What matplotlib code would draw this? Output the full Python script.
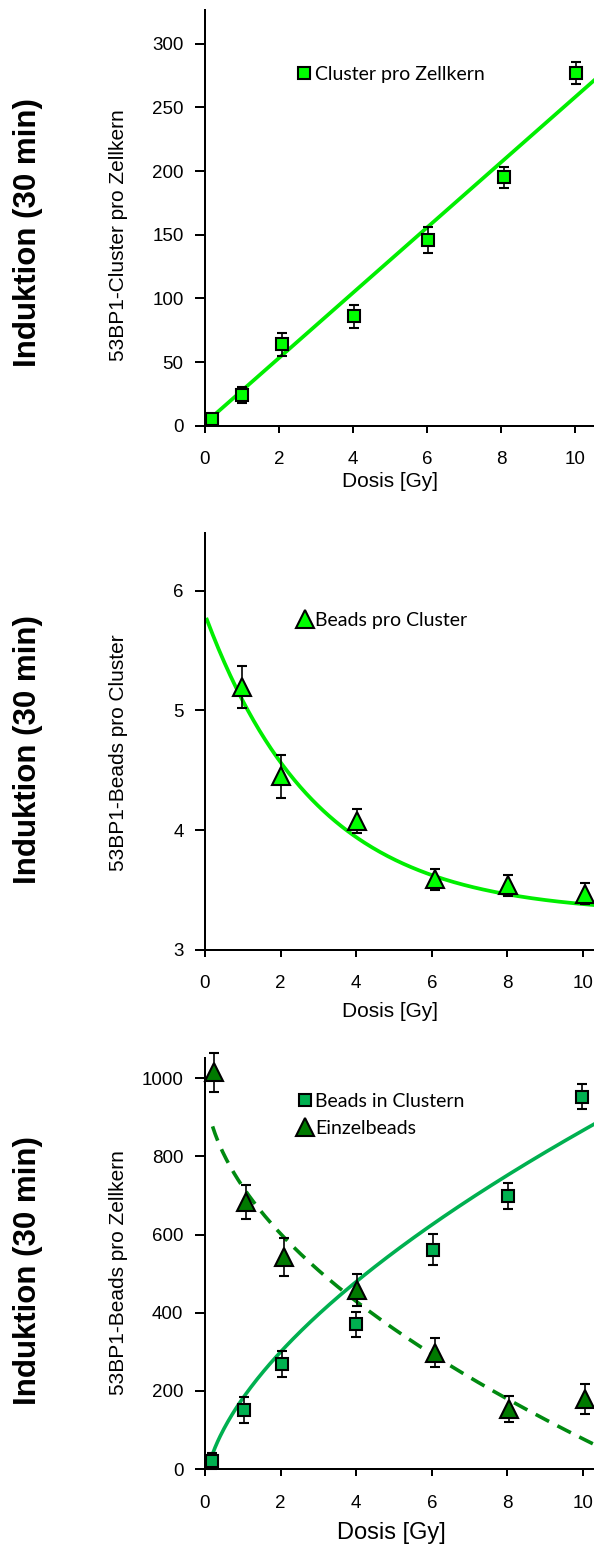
import numpy as np
import matplotlib
matplotlib.use('Agg')
import matplotlib.pyplot as plt
from matplotlib.lines import Line2D
from matplotlib.ticker import FixedLocator

W, H, DPI = 594, 1544, 100
plt.rcParams['font.family'] = ['Liberation Sans', 'DejaVu Sans']

# ---------------- data ----------------
dose_top = [0.2, 1.0, 2.07, 4.03, 6.04, 8.08, 10.03]
cluster_per_nucleus = [5, 24, 64, 86, 146, 195, 277]
cluster_err = [2, 6.5, 9, 9, 10, 8, 8.5]
lin_fit = (2.0, 25.6)                # intercept, slope

dose_mid = [0.97, 2.01, 4.01, 6.08, 8.02, 10.05]
beads_per_cluster = [5.195, 4.45, 4.08, 3.59, 3.54, 3.47]
bpc_err = [0.175, 0.18, 0.10, 0.09, 0.09, 0.09]
exp_fit = (3.30, 2.50, 0.34)         # c + A*exp(-k x)

dose_sq = [0.19, 1.03, 2.05, 4.0, 6.02, 8.02, 9.98]
beads_in_cluster = [20, 152, 269, 371, 561, 698, 953]
bic_err = [20, 33, 33, 32, 40, 33, 32]
dose_tri = [0.24, 1.08, 2.1, 4.01, 6.08, 8.04, 10.05]
single_beads = [1016, 684, 543, 458, 298, 154, 179]
sb_err = [50, 43, 48, 41, 38, 33, 38]
pow_cluster = (-49.0, 230.0, 0.60)   # c + b*x^p
pow_single = (992.0, 270.0, 0.53)    # a - b*x^p

xticks = [0, 2, 4, 6, 8, 10]
yticks_top = [0, 50, 100, 150, 200, 250, 300]
yticks_mid = [3, 4, 5, 6]
yticks_bot = [0, 200, 400, 600, 800, 1000]

GREEN = '#00ff00'
GREEN_LINE = '#00ee00'
MID_GREEN = '#00b050'
DARK_GREEN = '#007a00'
DASH_GREEN = '#008a10'

fig = plt.figure(figsize=(W / DPI, H / DPI), dpi=DPI)

def add_ax(left, top, right, bottom):
    return fig.add_axes([left / W, 1 - bottom / H, (right - left) / W, (bottom - top) / H])

PX = 72.0 / DPI  # points per pixel

def style(ax, yticks):
    for s in ['top', 'right']:
        ax.spines[s].set_visible(False)
    for s in ['left', 'bottom']:
        ax.spines[s].set_linewidth(2 * PX)
    ax.set_xticks(xticks)
    ax.set_yticks(yticks)
    ax.tick_params(axis='x', direction='out', length=6.5 * PX, width=2 * PX,
                   pad=19 * PX, labelsize=13.5)
    ax.tick_params(axis='y', direction='out', length=10 * PX, width=2 * PX,
                   pad=11.5 * PX, labelsize=13.5)
    ax.xaxis.set_minor_locator(FixedLocator([0]))
    ax.tick_params(axis='x', which='minor', length=9 * PX, width=2 * PX)

eb_kw = dict(mec='black', mew=1.5, ecolor='black', elinewidth=1.2,
             capsize=3.5, capthick=1.2, ls='none', clip_on=False, zorder=3)
leg_kw = dict(loc='center left', bbox_transform=fig.transFigure, frameon=False,
              borderpad=0, borderaxespad=0, prop={'family': 'Lato', 'size': 14.0})

# ---------------- top ----------------
ax1 = add_ax(205, 10, 594, 425.7)
ax1.set_xlim(0, (594 - 205) / 37.0)
ax1.set_ylim(0, (425.7 - 10) / 1.2733)
style(ax1, yticks_top)
xs = np.linspace(0.2, ax1.get_xlim()[1], 100)
ax1.plot(xs, lin_fit[0] + lin_fit[1] * xs, color=GREEN_LINE, lw=2.7, zorder=2)
ax1.errorbar(dose_top, cluster_per_nucleus, yerr=cluster_err, fmt='s', ms=8,
             mfc=GREEN, **eb_kw)
h1 = Line2D([], [], marker='s', ls='none', ms=8, mfc=GREEN, mec='black', mew=1.5)
ax1.legend([h1], ['Cluster pro Zellkern'], bbox_to_anchor=(297 / W, 1 - 74.5 / H),
           handlelength=0.7, handletextpad=0.22, **leg_kw)

# ---------------- middle ----------------
ax2 = add_ax(205, 533.3, 594, 950)
ax2.set_xlim(0, (594 - 205) / 37.8)
ax2.set_ylim(3, 3 + (950 - 533.3) / 119.8)
style(ax2, yticks_mid)
xs = np.linspace(0.05, ax2.get_xlim()[1], 200)
ax2.plot(xs, exp_fit[0] + exp_fit[1] * np.exp(-exp_fit[2] * xs), color=GREEN_LINE,
         lw=2.7, zorder=2)
ax2.errorbar(dose_mid, beads_per_cluster, yerr=bpc_err, fmt='^', ms=13.5,
             mfc=GREEN, **eb_kw)
h2 = Line2D([], [], marker='^', ls='none', ms=13.5, mfc=GREEN, mec='black', mew=1.5)
ax2.legend([h2], ['Beads pro Cluster'], bbox_to_anchor=(296 / W, 1 - 620.5 / H),
           handlelength=0.92, handletextpad=0.05, **leg_kw)

# ---------------- bottom ----------------
ax3 = add_ax(205, 1058.3, 594, 1469)
ax3.set_xlim(0, (594 - 205) / 37.8)
ax3.set_ylim(0, (1469 - 1058.3) / 0.3907)
style(ax3, yticks_bot)
xs = np.linspace(0.2, ax3.get_xlim()[1], 300)
ax3.plot(xs, pow_cluster[0] + pow_cluster[1] * xs ** pow_cluster[2], color=MID_GREEN,
         lw=2.6, zorder=2)
ax3.plot(xs, pow_single[0] - pow_single[1] * xs ** pow_single[2], color=DASH_GREEN,
         lw=2.6, dashes=(4.2, 2.6), zorder=2)
ax3.errorbar(dose_sq, beads_in_cluster, yerr=bic_err, fmt='s', ms=8,
             mfc=MID_GREEN, **eb_kw)
ax3.errorbar(dose_tri, single_beads, yerr=sb_err, fmt='^', ms=13.5,
             mfc=DARK_GREEN, **eb_kw)
h3a = Line2D([], [], marker='s', ls='none', ms=8, mfc=MID_GREEN, mec='black', mew=1.5)
h3b = Line2D([], [], marker='^', ls='none', ms=13.5, mfc=DARK_GREEN, mec='black', mew=1.5)
ax3.legend([h3a, h3b], ['Beads in Clustern', 'Einzelbeads'],
           bbox_to_anchor=(296 / W, 1 - 1115 / H), handlelength=0.92,
           handletextpad=0.05, labelspacing=0.5, **leg_kw)

# ---------------- labels ----------------
def ftxt(x, y, s, **kw):
    fig.text(x / W, 1 - y / H, s, **kw)

for yc in [233, 750, 1271]:
    ftxt(28, yc, 'Induktion (30 min)', rotation=90, ha='center', va='center',
         fontsize=22.5, fontweight='bold')

ftxt(118, 235, '53BP1-Cluster pro Zellkern', rotation=90, ha='center', va='center', fontsize=15)
ftxt(118, 753, '53BP1-Beads pro Cluster', rotation=90, ha='center', va='center', fontsize=15)
ftxt(118, 1273, '53BP1-Beads pro Zellkern', rotation=90, ha='center', va='center', fontsize=15)

ftxt(390, 486.7, 'Dosis [Gy]', ha='center', va='baseline', fontsize=15)
ftxt(390, 1016.7, 'Dosis [Gy]', ha='center', va='baseline', fontsize=15)
ftxt(391.7, 1538.7, 'Dosis [Gy]', ha='center', va='baseline', fontsize=17)

fig.savefig('out.png', dpi=DPI)
